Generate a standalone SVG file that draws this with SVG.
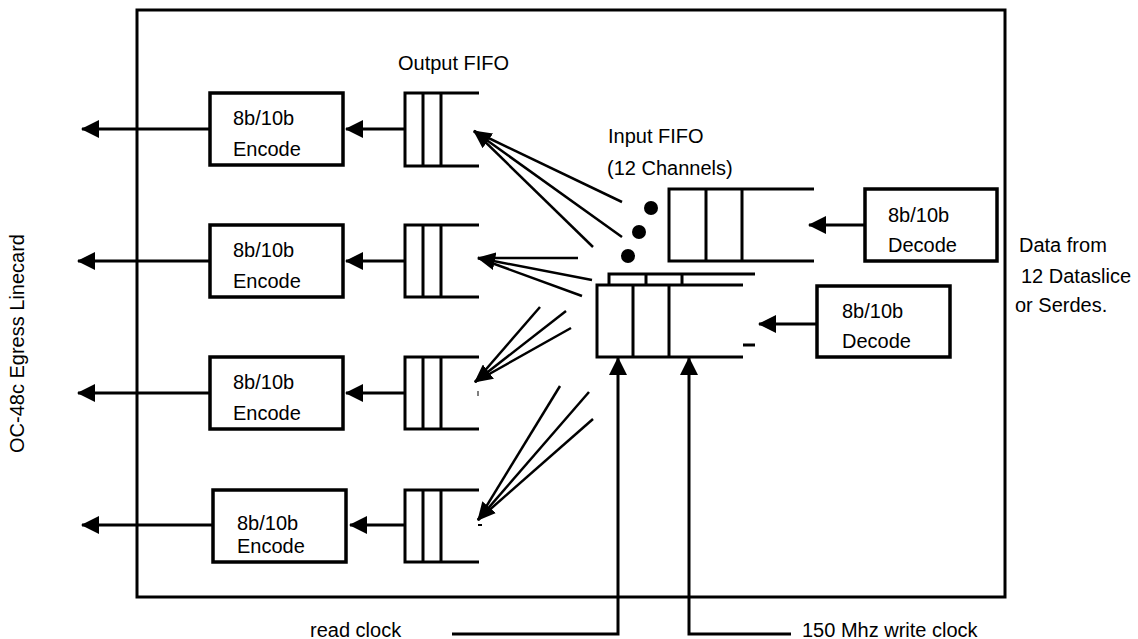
<svg xmlns="http://www.w3.org/2000/svg" width="1138" height="639" viewBox="0 0 1138 639">
<style>
.ln{stroke:#000;stroke-width:3;fill:none}
.thin{stroke:#000;stroke-width:2.5;fill:none}
.box{stroke:#000;stroke-width:3.5;fill:#fff}
.t{font-family:"Liberation Sans",Arial,sans-serif;font-size:20px;fill:#000}
</style>
<defs>
<marker id="ah" markerUnits="userSpaceOnUse" markerWidth="18" markerHeight="18" refX="17" refY="9" orient="auto">
<path d="M0,0 L18,9 L0,18 z" fill="#000"/>
</marker>
</defs>
<rect width="1138" height="639" fill="#fff"/>
<g id="outer"><rect x="137" y="10" width="868" height="587" class="ln" stroke-width="3.5"/></g>
<g id="label-linecard"><text class="t" transform="translate(24,453) rotate(-90)" font-size="21.5">OC-48c Egress Linecard</text></g>
<g id="label-datafrom"><text class="t" x="1019" y="252">Data from</text><text class="t" x="1021" y="283">12 Dataslice</text><text class="t" x="1015" y="312">or Serdes.</text></g>
<g id="label-outfifo"><text class="t" x="398" y="70">Output FIFO</text></g>
<g id="label-infifo"><text class="t" x="608" y="143">Input FIFO</text><text class="t" x="607" y="175">(12 Channels)</text></g>
<g id="enc1"><rect x="210" y="93" width="133" height="72" class="box"/><text class="t" x="233" y="125">8b/10b</text><text class="t" x="233" y="156">Encode</text></g>
<g id="enc2"><rect x="210" y="225" width="133" height="72" class="box"/><text class="t" x="233" y="257">8b/10b</text><text class="t" x="233" y="288">Encode</text></g>
<g id="enc3"><rect x="210" y="357" width="133" height="72" class="box"/><text class="t" x="233" y="389">8b/10b</text><text class="t" x="233" y="420">Encode</text></g>
<g id="enc4"><rect x="213" y="490" width="133" height="72" class="box"/><text class="t" x="237" y="530">8b/10b</text><text class="t" x="237" y="553">Encode</text></g>
<g id="ofifo1"><path class="ln" stroke-width="3.5" d="M479,93 H405 V166 H479 M423,93 V166 M441,93 V166"/></g>
<g id="ofifo2"><path class="ln" stroke-width="3.5" d="M479,225 H405 V297 H479 M423,225 V297 M441,225 V297"/></g>
<g id="ofifo3"><path class="ln" stroke-width="3.5" d="M479,357 H405 V429 H479 M423,357 V429 M441,357 V429"/><line x1="478" y1="391" x2="478" y2="396" stroke="#000" stroke-width="1"/></g>
<g id="ofifo4"><path class="ln" stroke-width="3.5" d="M479,490 H405 V562 H479 M423,490 V562 M441,490 V562"/><rect x="478" y="524" width="4" height="2" fill="#000"/></g>
<g id="ififo1"><path class="ln" stroke-width="3.5" d="M814,189 H669 V261 H814 M706,189 V261 M742,189 V261"/></g>
<g id="ififo2"><path class="ln" stroke-width="3.5" d="M755,274 H609 V285 M646,274 V285 M682,274 V285 M743,285 H597 V357 H743 M633,285 V357 M669,285 V357 M743,345 H755"/></g>
<g id="dots"><circle cx="651" cy="208" r="7"/><circle cx="639" cy="232" r="7"/><circle cx="628" cy="256" r="7"/></g>
<g id="dec1"><rect x="865" y="189" width="132" height="72" class="box"/><text class="t" x="888" y="222">8b/10b</text><text class="t" x="888" y="252">Decode</text></g>
<g id="dec2"><rect x="817" y="286" width="133" height="71" class="box"/><text class="t" x="842" y="318">8b/10b</text><text class="t" x="842" y="348">Decode</text></g>
<g id="connectors">
<line class="ln" x1="210" y1="129" x2="82" y2="129" marker-end="url(#ah)"/>
<line class="ln" x1="210" y1="261" x2="78" y2="261" marker-end="url(#ah)"/>
<line class="ln" x1="210" y1="393" x2="78" y2="393" marker-end="url(#ah)"/>
<line class="ln" x1="213" y1="525" x2="82" y2="525" marker-end="url(#ah)"/>
<line class="ln" x1="405" y1="129" x2="346" y2="129" marker-end="url(#ah)"/>
<line class="ln" x1="405" y1="261" x2="346" y2="261" marker-end="url(#ah)"/>
<line class="ln" x1="405" y1="393" x2="346" y2="393" marker-end="url(#ah)"/>
<line class="ln" x1="405" y1="525" x2="350" y2="525" marker-end="url(#ah)"/>
<line class="ln" x1="865" y1="225" x2="809" y2="225" marker-end="url(#ah)"/>
<line class="ln" x1="817" y1="324" x2="759" y2="324" marker-end="url(#ah)"/>
<line class="thin" x1="622" y1="202" x2="474" y2="131"/>
<line class="thin" x1="622" y1="237" x2="474" y2="131" marker-end="url(#ah)"/>
<line class="thin" x1="593" y1="247" x2="474" y2="131"/>
<line class="thin" x1="578" y1="258" x2="478" y2="258"/>
<line class="thin" x1="592" y1="280" x2="478" y2="258" marker-end="url(#ah)"/>
<line class="thin" x1="582" y1="296" x2="478" y2="258"/>
<line class="thin" x1="540" y1="307" x2="475" y2="382"/>
<line class="thin" x1="566" y1="311" x2="475" y2="382" marker-end="url(#ah)"/>
<line class="thin" x1="571" y1="328" x2="475" y2="382"/>
<line class="thin" x1="560" y1="386" x2="478" y2="520"/>
<line class="thin" x1="589" y1="392" x2="478" y2="520" marker-end="url(#ah)"/>
<line class="thin" x1="593" y1="419" x2="478" y2="520"/>
<path class="ln" d="M452,634 H618 V358" marker-end="url(#ah)"/>
<path class="ln" d="M791,634 H689 V358" marker-end="url(#ah)"/>
</g>
<g id="label-clocks"><text class="t" x="310" y="637">read clock</text><text class="t" x="802" y="637">150 Mhz write clock</text></g>
</svg>
